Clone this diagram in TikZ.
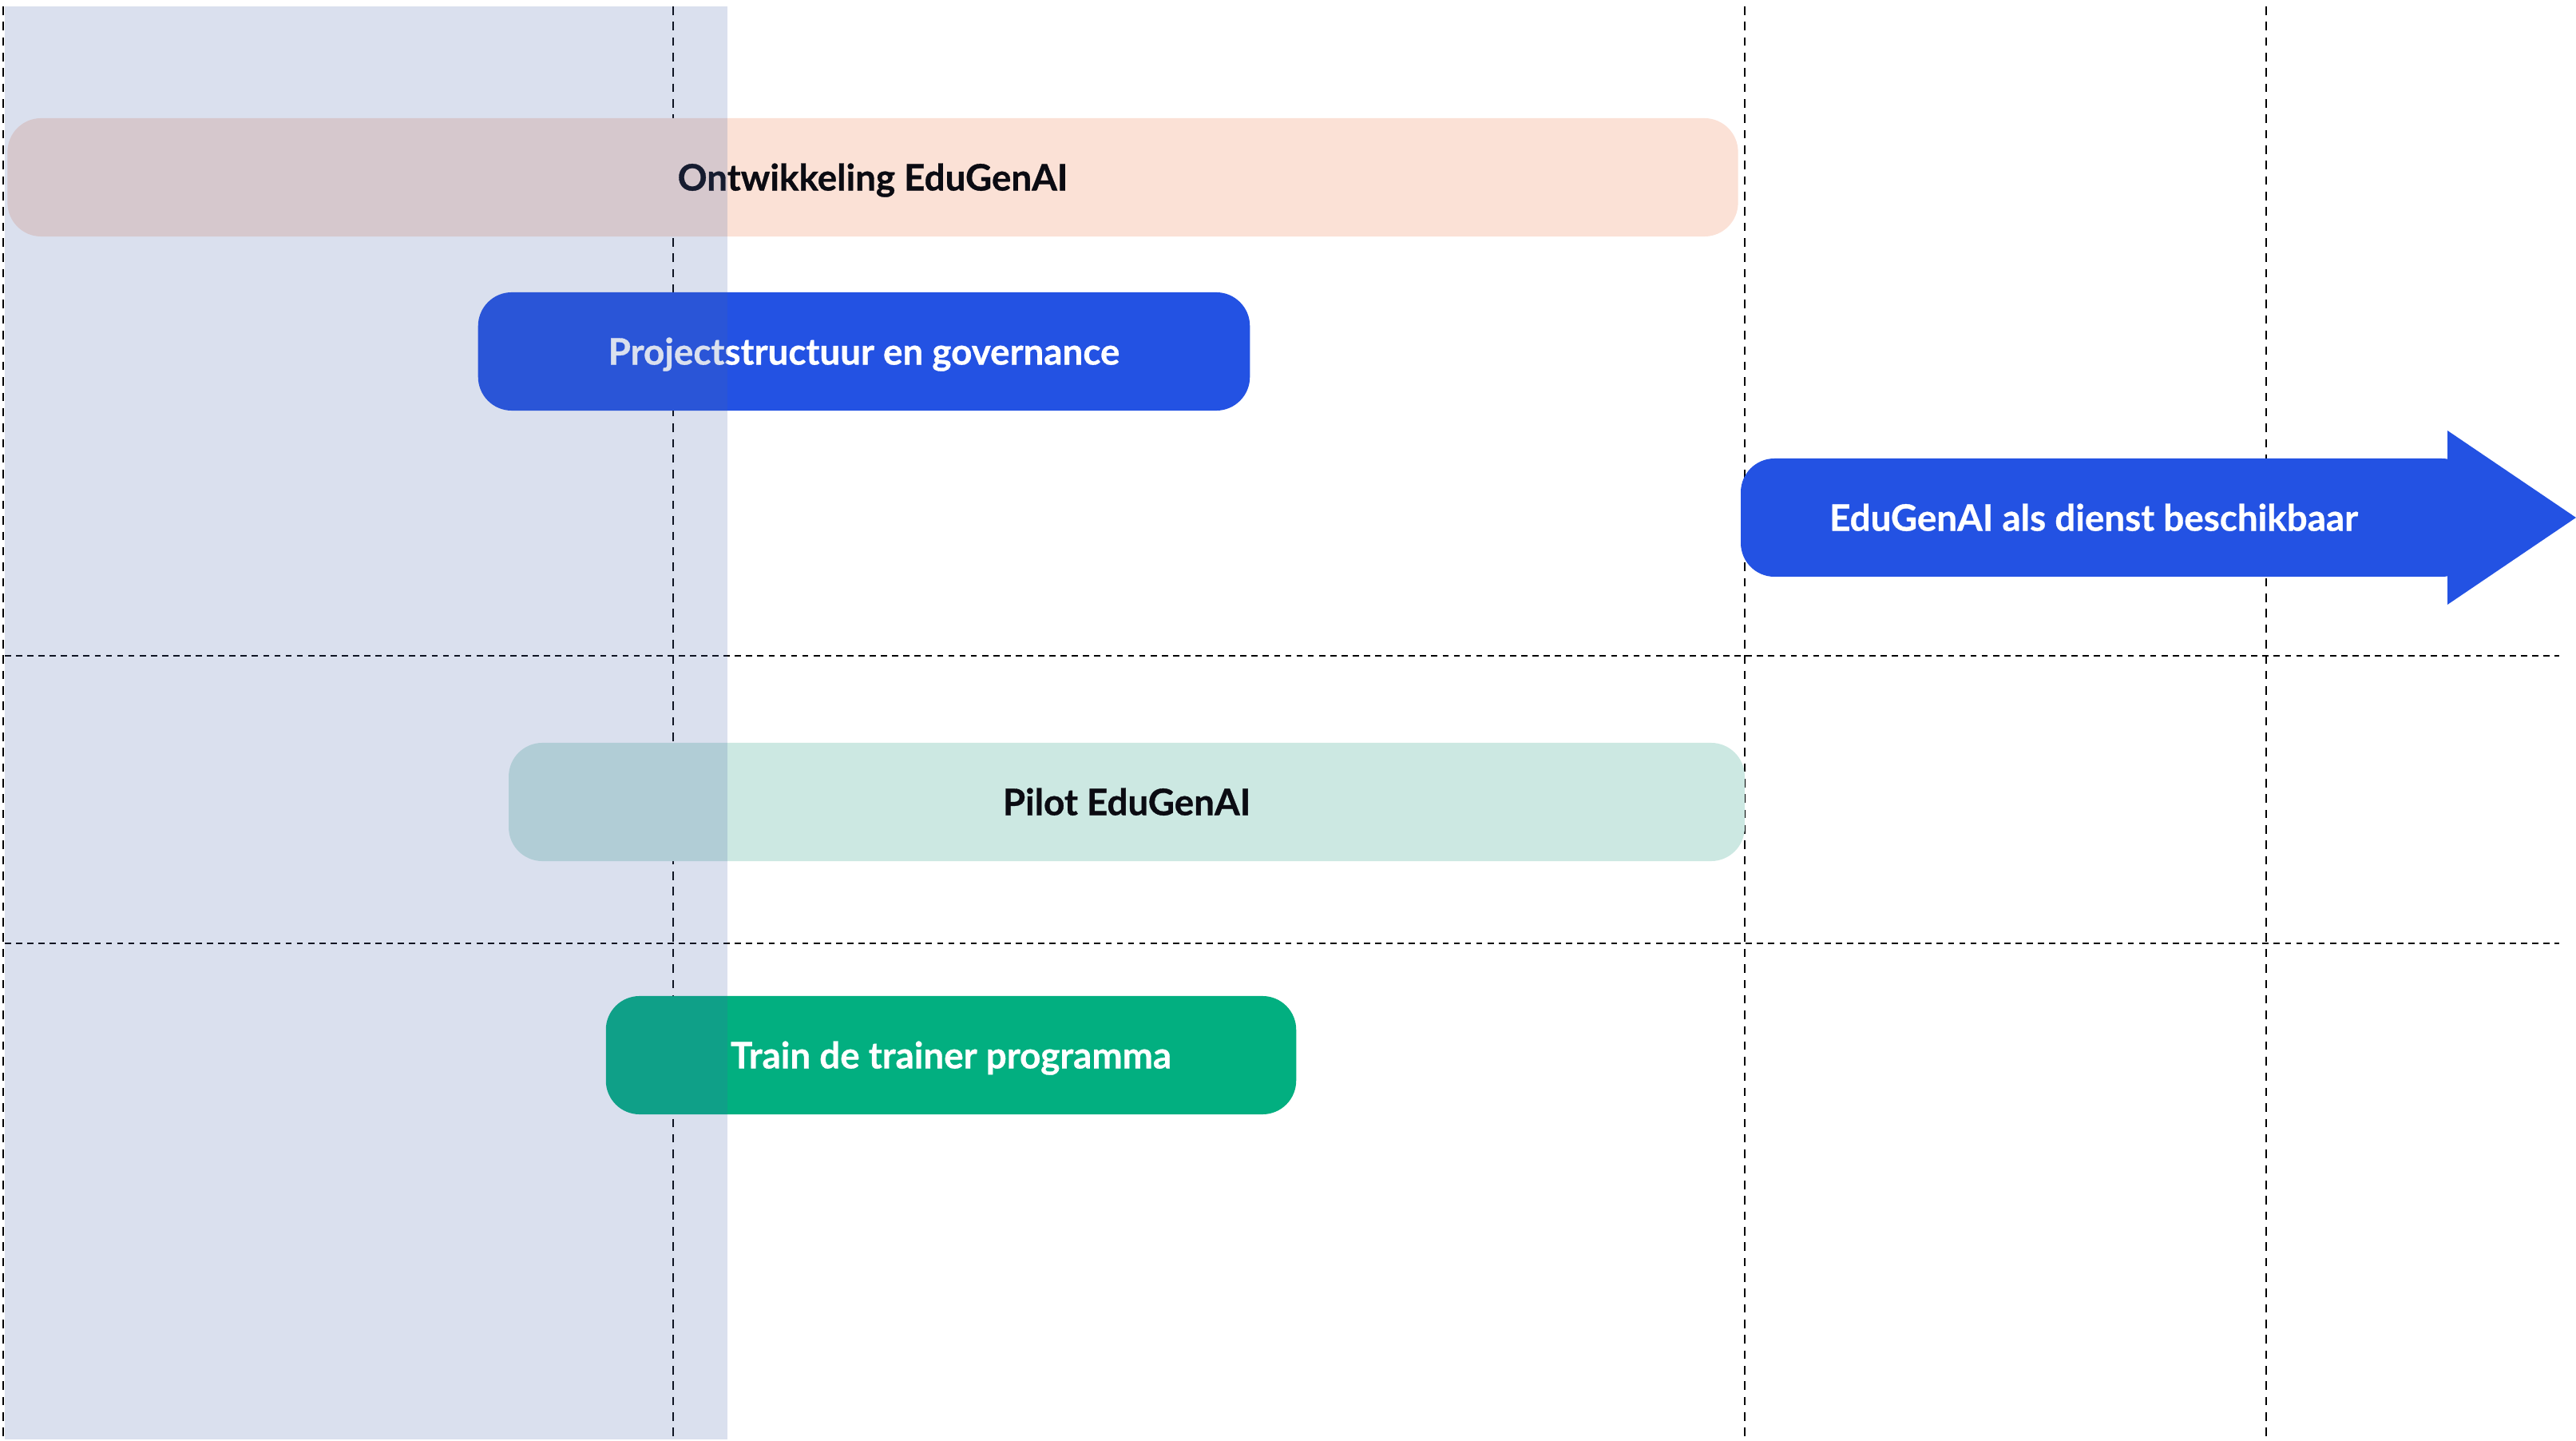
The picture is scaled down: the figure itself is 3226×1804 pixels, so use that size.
\documentclass[tikz,border=0pt]{standalone}
\usepackage{fontspec}
\setmainfont{Lato}[BoldFeatures={FakeBold=0.7}]
\usetikzlibrary{arrows}
\definecolor{peach}{HTML}{FBE1D6}
\definecolor{edublue}{HTML}{2352E3}
\definecolor{mint}{HTML}{CCE8E2}
\definecolor{edugreen}{HTML}{02AF80}
\definecolor{inktext}{HTML}{0B0B12}
\definecolor{bandcol}{RGB}{70,100,170}
\begin{document}
\begin{tikzpicture}[x=0.01cm,y=-0.01cm,bar node/.style={rectangle,rounded corners=12pt,minimum height=1.48cm,inner sep=0pt,text height=9.4pt,text depth=0pt,font=\bfseries\fontsize{13}{15}\selectfont},grid line/.style={black,line width=0.75pt,dash pattern=on 3pt off 2.5pt},row line/.style={black,line width=0.8pt,dash pattern=on 2.2pt off 1.8pt}]
  \useasboundingbox (0,0) rectangle (3226,1804);
  \foreach \x in {4,843,2185,2838}
    \draw[grid line] (\x,8) -- (\x,1802);
  \foreach \y in {821,1181}
    \draw[row line] (6,\y) -- (3205,\y);

  \node[bar node,fill=peach,text=inktext,minimum width=21.66cm] (1) at (1093,222) {Ontwikkeling EduGenAI};
  \node[bar node,fill=edublue,text=white,minimum width=9.66cm] (2) at (1082,440) {Projectstructuur en governance};
  \fill[edublue,rounded corners=12pt] (2180,574) rectangle (3100,722);
  \fill[edublue] (3065,539) -- (3226,648) -- (3065,757) -- cycle;
  \node[bar node,text=white] (3) at (2622,648) {EduGenAI als dienst beschikbaar};
  \node[bar node,fill=mint,text=inktext,minimum width=15.47cm] (4) at (1411,1004) {Pilot EduGenAI};
  \node[bar node,fill=edugreen,text=white,minimum width=8.64cm] (5) at (1191,1321) {Train de trainer programma};

  \fill[bandcol,fill opacity=0.2] (6,8) rectangle (911,1802);
\end{tikzpicture}
\end{document}
